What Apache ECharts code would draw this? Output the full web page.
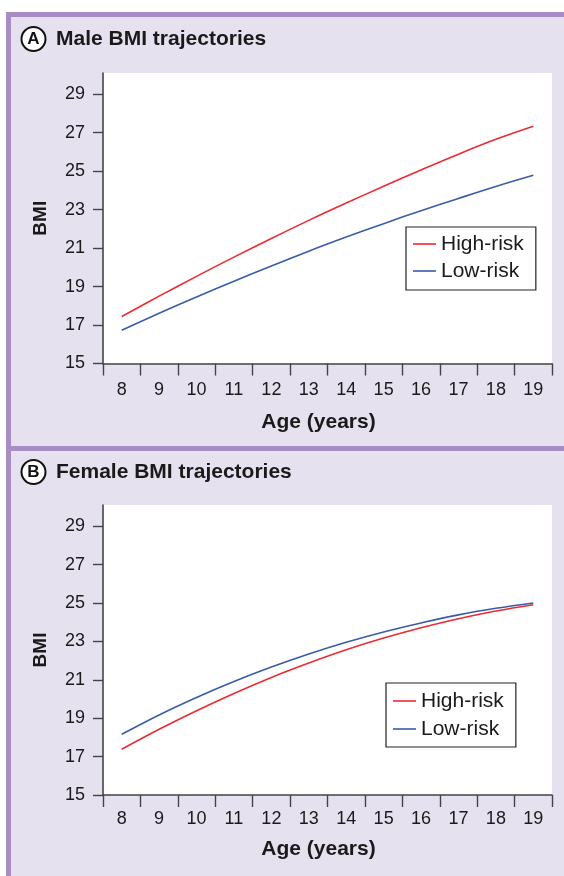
<!DOCTYPE html>
<html>
<head>
<meta charset="utf-8">
<script src="https://cdn.jsdelivr.net/npm/echarts@6/dist/echarts.min.js"></script>
<style>
  html, body { margin: 0; padding: 0; background: #ffffff; }
  #frame { position: absolute; left: 6px; top: 12px; width: 553px; height: 859px;
           background: #e6e1ef; border-top: 5px solid #a88cc4; border-left: 5px solid #a88cc4; }
  #chart { position: absolute; left: 0; top: 0; width: 564px; height: 876px; }
</style>
</head>
<body>
<div id="frame"></div>
<div id="chart"></div>
<script>
// ---- data ----
const ages = ['8', '9', '10', '11', '12', '13', '14', '15', '16', '17', '18', '19'];
const maleHighRisk   = [17.44, 18.50, 19.53, 20.53, 21.50, 22.44, 23.34, 24.21, 25.06, 25.88, 26.65, 27.33];
const maleLowRisk    = [16.73, 17.61, 18.46, 19.28, 20.07, 20.84, 21.57, 22.27, 22.94, 23.58, 24.20, 24.78];
const femaleHighRisk = [17.38, 18.42, 19.39, 20.29, 21.12, 21.87, 22.56, 23.17, 23.71, 24.18, 24.58, 24.91];
const femaleLowRisk  = [18.16, 19.17, 20.08, 20.91, 21.66, 22.34, 22.95, 23.49, 23.96, 24.38, 24.72, 25.00];
const yTickValues = [15, 17, 19, 21, 23, 25, 27, 29];
const seriesNames = ['High-risk', 'Low-risk'];
const panelTitles = ['Male BMI trajectories', 'Female BMI trajectories'];
const panelLetters = ['A', 'B'];

const FONT = '"Liberation Sans", Arial, Helvetica, sans-serif';
const INK = '#1a1a1a';
const AXIS = '#444444';
const RED = '#ec2a30';
const BLUE = '#3a5ca8';

const chart = echarts.init(document.getElementById('chart'), null, { renderer: 'canvas' });

function xAxisCfg(gridIndex, labelMargin, nameGap) {
  return {
    type: 'category', gridIndex, data: ages, boundaryGap: true,
    name: 'Age (years)', nameLocation: 'middle', nameGap,
    nameTextStyle: { fontFamily: FONT, fontSize: 21, fontWeight: 'bold', color: INK, padding: [0, 18, 0, 0] },
    axisLine: { onZero: false, lineStyle: { color: AXIS, width: 1.6 } },
    axisTick: { show: true, length: 12, interval: 0, alignWithLabel: false, lineStyle: { color: AXIS, width: 1.4 } },
    axisLabel: { interval: 0, margin: labelMargin, fontFamily: FONT, fontSize: 18, color: INK },
    splitLine: { show: false }
  };
}
function yAxisCfg(gridIndex) {
  return {
    type: 'value', gridIndex, min: 15, max: 30.1,
    name: 'BMI', nameLocation: 'middle', nameGap: 53, nameRotate: 90,
    nameTextStyle: { fontFamily: FONT, fontSize: 19, fontWeight: 'bold', color: INK },
    axisLine: { show: true, lineStyle: { color: AXIS, width: 1.6 } },
    axisTick: { show: true, length: 10, customValues: yTickValues, lineStyle: { color: AXIS, width: 1.4 } },
    axisLabel: { margin: 18, customValues: yTickValues, fontFamily: FONT, fontSize: 18, color: INK },
    splitLine: { show: false }
  };
}
function lineSeries(name, data, color, idx) {
  return {
    type: 'line', name, data, xAxisIndex: idx, yAxisIndex: idx,
    smooth: 0.4, symbol: 'none', silent: true,
    lineStyle: { color, width: 1.6 }, itemStyle: { color }
  };
}
function legendCfg(left, top, padding, gap) {
  return {
    data: seriesNames, orient: 'vertical', left, top, padding, itemGap: gap,
    icon: 'rect', itemWidth: 23, itemHeight: 1.6,
    backgroundColor: '#ffffff', borderColor: '#222222', borderWidth: 1.2, borderRadius: 0,
    textStyle: { fontFamily: FONT, fontSize: 21, color: INK, lineHeight: 22 },
    selectedMode: false
  };
}
function header(cy, letter, title) {
  return [
    { type: 'circle', shape: { cx: 33.5, cy, r: 12 }, style: { fill: '#ffffff', stroke: '#111111', lineWidth: 2 } },
    { type: 'text', x: 33.5, y: cy + 0.5, style: { text: letter, font: 'bold 17px ' + FONT, fill: '#111111', align: 'center', verticalAlign: 'middle' } },
    { type: 'text', x: 56, y: cy, style: { text: title, font: 'bold 21px ' + FONT, fill: INK, align: 'left', verticalAlign: 'middle' } }
  ];
}

const option = {
  backgroundColor: 'transparent',
  animation: false,
  grid: [
    { left: 103, top: 73, width: 449, height: 290.5, show: true, backgroundColor: '#ffffff', borderWidth: 0 },
    { left: 103, top: 505, width: 449, height: 290, show: true, backgroundColor: '#ffffff', borderWidth: 0 }
  ],
  xAxis: [xAxisCfg(0, 18, 48), xAxisCfg(1, 15, 44)],
  yAxis: [yAxisCfg(0), yAxisCfg(1)],
  legend: [
    legendCfg(406, 227, [6, 12, 8, 7], 5),
    legendCfg(386, 683, [7, 12, 7, 7], 6)
  ],
  series: [
    lineSeries(seriesNames[0], maleHighRisk, RED, 0),
    lineSeries(seriesNames[1], maleLowRisk, BLUE, 0),
    lineSeries(seriesNames[0], femaleHighRisk, RED, 1),
    lineSeries(seriesNames[1], femaleLowRisk, BLUE, 1)
  ],
  graphic: [
    { type: 'rect', shape: { x: 6, y: 446, width: 558, height: 5 }, style: { fill: '#a88cc4' } }
  ].concat(header(39, panelLetters[0], panelTitles[0]), header(472, panelLetters[1], panelTitles[1]))
};
chart.setOption(option);
</script>
</body>
</html>
